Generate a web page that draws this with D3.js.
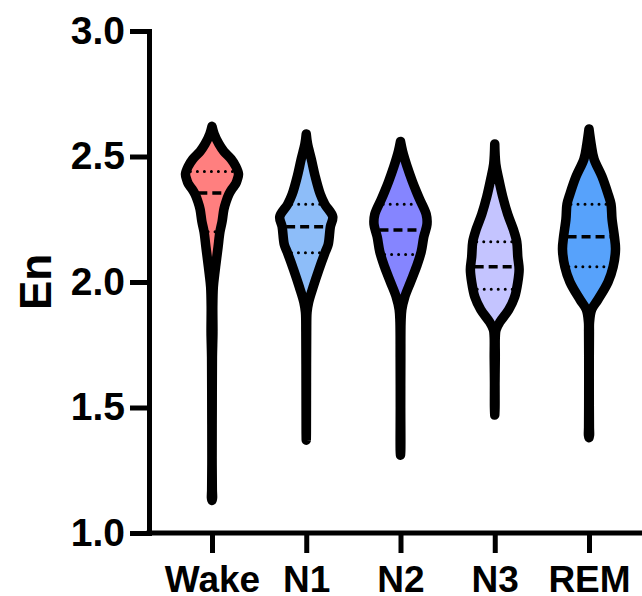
<!DOCTYPE html>
<html>
<head>
<meta charset="utf-8">
<script src="https://cdn.jsdelivr.net/npm/d3@7"></script>
<style>
  body { margin: 0; background: #fff; }
  svg { display: block; }
  text { font-family: "Liberation Sans", Arial, sans-serif; font-weight: bold; fill: #000; }
</style>
</head>
<body>
<script>
// stages and fill colours
const stages = ["Wake", "N1", "N2", "N3", "REM"];
const stageColors = ["#ff7f7f", "#8dbdf9", "#8585ff", "#c4c4ff", "#57a2fb"];
const yTicks = [1.0, 1.5, 2.0, 2.5, 3.0];

// violin outlines: En value and relative density
const wakeEn   = [2.62, 2.59, 2.55, 2.52, 2.49, 2.46, 2.43, 2.41, 2.39, 2.37, 2.35, 2.32, 2.29, 2.24, 2.20, 2.14, 2.09, 2.03, 1.98, 1.90, 1.80, 1.70, 1.50, 1.30, 1.17, 1.14, 1.13];
const wakeDens = [0, .08, .26, .45, .72, .90, 1.0, .96, .89, .75, .64, .53, .45, .38, .30, .23, .17, .10, .05, .03, .035, .015, .008, .004, .012, .02, 0];
const n1En     = [2.59, 2.55, 2.49, 2.42, 2.35, 2.31, 2.26, 2.22, 2.15, 2.12, 2.05, 1.98, 1.92, 1.88, 1.80, 1.60, 1.40, 1.37];
const n1Dens   = [0, .05, .19, .34, .53, .70, 1.0, .91, .83, .72, .48, .26, .09, .03, .015, .008, .004, 0];
const n2En     = [2.56, 2.52, 2.46, 2.40, 2.36, 2.33, 2.27, 2.23, 2.18, 2.12, 2.06, 2.00, 1.94, 1.89, 1.84, 1.70, 1.50, 1.33, 1.31];
const n2Dens   = [0, .08, .25, .45, .60, .72, .97, 1.0, .88, .78, .60, .38, .16, .05, .02, .012, .008, .01, 0];
const n3En     = [2.55, 2.47, 2.41, 2.34, 2.27, 2.21, 2.16, 2.10, 2.05, 2.00, 1.94, 1.89, 1.84, 1.81, 1.78, 1.70, 1.60, 1.50, 1.47];
const n3Dens   = [0, .04, .15, .30, .49, .70, .83, .87, .92, .87, .75, .53, .19, .05, .02, .02, .01, .01, 0];
const remEn    = [2.61, 2.55, 2.49, 2.42, 2.35, 2.31, 2.25, 2.18, 2.13, 2.06, 2.00, 1.93, 1.89, 1.84, 1.80, 1.70, 1.55, 1.42, 1.39, 1.38];
const remDens  = [0, .08, .19, .49, .72, .83, .87, .96, 1.0, .91, .72, .34, .10, .02, .015, .01, .01, .015, .02, 0];

// quartiles per stage: [Q1, median, Q3]
const wakeQ = [2.200, 2.355, 2.440];
const n1Q   = [2.117, 2.220, 2.310];
const n2Q   = [2.110, 2.207, 2.310];
const n3Q   = [1.971, 2.061, 2.160];
const remQ  = [2.061, 2.180, 2.310];

const profiles = [[wakeEn, wakeDens], [n1En, n1Dens], [n2En, n2Dens], [n3En, n3Dens], [remEn, remDens]];
const quartiles = [wakeQ, n1Q, n2Q, n3Q, remQ];

const width = 642, height = 596;
const margin = {left: 149, top: 31, bottom: 63};

const svg = d3.select("body").append("svg")
    .attr("width", width)
    .attr("height", height);

const y = d3.scaleLinear().domain([1, 3]).range([height - margin.bottom, margin.top]);
const x = d3.scalePoint().domain(stages).range([212, 589]);
const w = d3.scaleLinear().domain([0, 1]).range([0, 26.5]);

const area = d3.area()
    .y(d => y(d[0]))
    .curve(d3.curveCatmullRom.alpha(0.5));

stages.forEach((s, i) => {
    const [en, dens] = profiles[i];
    const cx = x(s);
    const pts = en.map((v, j) => [v, dens[j]]);
    svg.append("path")
        .datum(pts)
        .attr("d", area.x0(d => cx - w(d[1])).x1(d => cx + w(d[1])))
        .attr("fill", stageColors[i])
        .attr("stroke", "#000")
        .attr("stroke-width", 9.5)
        .attr("stroke-linejoin", "round");

    const densAt = d3.scaleLinear().domain(en).range(dens);
    quartiles[i].forEach((q, k) => {
        const hw = Math.max(0, w(densAt(q)) - 4);
        const line = svg.append("line")
            .attr("x1", cx - hw).attr("x2", cx + hw)
            .attr("y1", y(q)).attr("y2", y(q))
            .attr("stroke", "#000");
        if (k === 1) {
            line.attr("stroke-width", 3.5).attr("stroke-dasharray", "9 5");
        } else {
            line.attr("stroke-width", 3).attr("stroke-linecap", "round").attr("stroke-dasharray", "0 7");
        }
    });
});

// y axis
const yAxis = svg.append("g")
    .attr("transform", `translate(${margin.left},0)`)
    .call(d3.axisLeft(y).tickValues(yTicks).tickFormat(d3.format(".1f")).tickSize(19).tickSizeOuter(0).tickPadding(5));
yAxis.select(".domain").attr("stroke-width", 5).attr("stroke-linecap", "square");
yAxis.selectAll(".tick line").attr("stroke-width", 5);
yAxis.selectAll("text").attr("font-size", 39);
yAxis.attr("font-family", null);

// x axis
const xAxis = svg.append("g")
    .attr("transform", `translate(0,${y(1)})`)
    .call(d3.axisBottom(x).tickSize(20).tickSizeOuter(0).tickPadding(13));
xAxis.select(".domain").attr("d", `M${margin.left - 2.5},0H${width}`).attr("stroke-width", 5);
xAxis.selectAll(".tick line").attr("stroke-width", 5);
xAxis.selectAll("text").attr("font-size", 37);
xAxis.attr("font-family", null);

// axis title
svg.append("text")
    .attr("transform", `translate(51,${y(2)}) rotate(-90)`)
    .attr("text-anchor", "middle")
    .attr("font-size", 44)
    .text("En");
</script>
</body>
</html>
